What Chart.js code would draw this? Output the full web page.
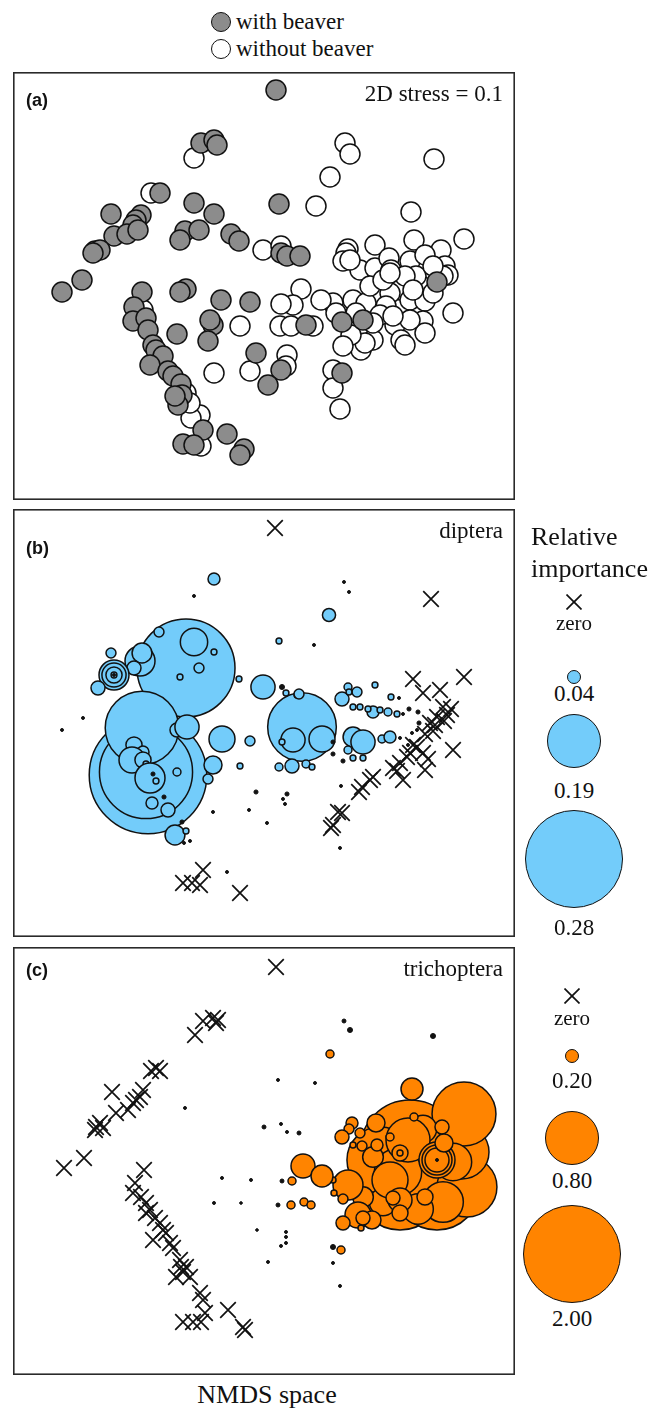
<!DOCTYPE html>
<html><head><meta charset="utf-8">
<script src="https://cdn.jsdelivr.net/npm/chart.js@4.4.1/dist/chart.umd.min.js"></script>
<style>
body{margin:0;background:#fff;}
#page{position:relative;width:664px;height:1410px;overflow:hidden;font-family:"Liberation Serif","Times New Roman",serif;color:#111;background:#fff;}
.t{position:absolute;white-space:nowrap;line-height:1;}
.lab{font-family:"Liberation Sans",Arial,sans-serif;font-weight:bold;font-size:18px;}
canvas{position:absolute;}
.sym{position:absolute;border:1.5px solid #111;border-radius:50%;box-sizing:border-box;}
</style></head><body><div id="page">
<canvas id="cA" width="502" height="428" style="left:13px;top:72px"></canvas>
<canvas id="cB" width="502" height="428" style="left:13px;top:509px"></canvas>
<canvas id="cC" width="502" height="428" style="left:13px;top:947px"></canvas>
</div>
<script>
// ---------- data (NMDS site scores, box units; y measured downward) ----------
const withBeaver = [[263,18],[188,71],[201,68],[204,73],[147,121],[98,142],[128,143],[123,148],[120,153],[101,164],[114,162],[125,158],[82,179],[87,178],[80,181],[69,208],[49,220],[181,131],[201,142],[172,159],[186,158],[167,168],[218,162],[226,169],[266,132],[268,181],[274,184],[287,184],[129,220],[121,235],[120,249],[133,246],[135,258],[140,273],[143,278],[150,284],[137,293],[155,299],[160,304],[168,312],[169,323],[165,333],[162,324],[173,217],[167,220],[164,262],[208,228],[237,230],[200,253],[197,248],[195,269],[243,281],[268,298],[255,313],[293,253],[329,250],[350,248],[329,301],[424,210],[190,358],[170,372],[181,373],[214,362],[231,377],[227,383]];
const withoutBeaver = [[332,71],[337,82],[421,87],[317,105],[303,134],[398,140],[138,121],[181,86],[451,167],[401,168],[428,178],[362,173],[335,177],[333,181],[330,189],[347,198],[362,196],[376,186],[378,198],[397,189],[412,183],[432,194],[435,203],[407,213],[403,204],[387,218],[377,221],[373,234],[397,228],[412,229],[420,221],[440,241],[410,249],[412,261],[382,253],[388,268],[392,273],[360,268],[348,278],[352,271],[338,263],[330,274],[340,228],[353,231],[320,231],[323,241],[308,228],[288,217],[280,233],[268,232],[267,254],[278,254],[300,254],[227,254],[250,178],[268,174],[320,298],[320,316],[327,337],[274,283],[273,294],[237,299],[201,301],[187,343],[188,374],[178,346],[130,238],[127,248],[173,321],[177,331],[367,243],[397,248],[380,244],[430,204],[392,204],[357,214],[370,208],[400,218],[343,241],[360,251],[420,194],[337,188],[377,201]];

const dipteraZero = [[262,19],[418,90],[400,170],[451,168],[427,181],[410,184],[430,198],[424,208],[434,206],[417,214],[412,225],[420,222],[438,200],[431,212],[422,216],[440,241],[404,238],[397,244],[410,244],[400,236],[387,254],[380,259],[390,271],[412,261],[384,262],[394,248],[415,250],[357,271],[349,278],[360,268],[346,283],[325,303],[320,316],[329,304],[318,319],[190,361],[170,374],[179,374],[187,376],[227,384]];
// [nmds1, nmds2, relative importance]
const dipteraSites = [[135,266,0.32],[133,263,0.27],[173,159,0.28],[129,219,0.23],[289,218,0.22],
[181,133,0.09],[146,123,0.026],[201,143,0.012],[186,159,0.026],[167,168,0.012],[226,170,0.012],[98,144,0.026],
[127,152,0.10],[129,144,0.062],[121,159,0.04],[101,166,0.10],[101,166,0.078],[101,166,0.048],[101,166,0.012],[101,166,0.002],[85,179,0.04],
[164,221,0.04],[174,218,0.078],
[121,236,0.048],[130,243,0.033],[119,251,0.085],[130,251,0.048],[133,255,0.012],[137,269,0.10],[140,265,0.006],[143,272,0.012],[139,294,0.033],[155,301,0.04],[151,288,0.006],[164,263,0.019],[162,326,0.062],[173,322,0.012],[169,313,0.006],[177,332,0.002],[171,334,0.002],
[209,230,0.085],[237,232,0.026],[227,257,0.012],[200,256,0.055],[195,270,0.026],[250,178,0.078],[266,132,0.012],[269,178,0.009],[273,184,0.012],[284,186,0.012],[201,70,0.033],[316,106,0.037],
[181,87,0.002],[70,209,0.002],[49,221,0.002],[301,136,0.002],[331,73,0.002],[336,83,0.002],[243,283,0.006],[274,285,0.006],[270,290,0.002],[272,295,0.002],[236,301,0.002],[200,303,0.002],[254,314,0.002],[328,277,0.002],[327,339,0.002],[214,363,0.002],
[280,231,0.078],[309,230,0.085],[269,233,0.012],[320,233,0.006],[286,185,0.026],[266,258,0.019],[279,257,0.04],[293,255,0.019],[299,258,0.012],
[340,228,0.062],[350,233,0.078],[335,241,0.019],[340,249,0.012],[350,249,0.012],[330,252,0.006],[320,245,0.006],[369,230,0.019],[377,228,0.033],[329,190,0.04],[335,178,0.019],[344,183,0.026],[336,183,0.012],[362,176,0.012],[340,198,0.012],[347,198,0.012],[360,203,0.033],[355,200,0.012],[367,201,0.012],[375,203,0.019],[384,205,0.012],[378,188,0.012],[386,189,0.002],[396,200,0.006],[405,203,0.006],[406,214,0.006],[390,205,0.002],[387,229,0.002],[395,236,0.002],[399,224,0.002],[404,221,0.002]];

const trichZero = [[263,20],[182,88],[190,74],[200,71],[205,73],[203,76],[138,124],[147,124],[143,121],[99,145],[130,143],[127,150],[123,153],[120,156],[115,163],[103,166],[87,176],[83,180],[82,183],[90,181],[71,211],[51,221],[131,223],[122,236],[120,246],[128,250],[133,256],[137,263],[142,271],[147,276],[140,293],[153,286],[157,296],[160,301],[167,313],[173,320],[170,325],[163,330],[177,330],[187,346],[190,353],[192,366],[170,375],[180,375],[188,375],[215,363],[230,380],[232,383],[133,266],[150,283],[168,320]];
const trichSites = [[397,203,2.05],[407,226,1.89],[387,240,1.67],[424,240,1.67],[367,213,1.13],[454,240,0.96],[449,205,0.80],[451,167,1.07],
[385,225,0.70],[430,255,0.60],[440,215,0.55],[405,262,0.45],[370,255,0.40],[410,182,0.40],[360,210,0.30],[350,250,0.30],
[395,193,0.65],[424,213,0.53],[424,213,0.44],[424,213,0.35],[377,233,0.53],[335,238,0.44],[345,268,0.38],[387,253,0.35],[359,273,0.26],[387,266,0.23],[412,250,0.23],[330,276,0.20],[348,281,0.062],[363,176,0.26],[399,142,0.32],[339,176,0.165],[336,182,0.13],[329,190,0.20],[347,186,0.13],[364,198,0.165],[377,190,0.097],[349,199,0.13],[340,198,0.062],[387,206,0.23],[387,206,0.062],[429,180,0.20],[431,196,0.26],[401,170,0.097],[320,233,0.062],[321,246,0.062],[330,252,0.13],[380,251,0.20],[350,271,0.20],[424,213,0.01],
[290,219,0.35],[309,229,0.32],[279,234,0.097],[278,258,0.097],[291,255,0.097],[298,258,0.097],[317,107,0.097],[337,83,0.045],[331,74,0.028],[420,89,0.045],[320,300,0.045],[328,303,0.097],
[172,161,0.01],[251,180,0.028],[209,231,0.01],[238,233,0.01],[201,256,0.01],[228,256,0.005],[244,283,0.005],[255,315,0.01],[265,133,0.01],[302,136,0.01],[268,177,0.01],[274,185,0.01],[286,186,0.028],[269,234,0.028],[265,258,0.028],[273,285,0.01],[273,290,0.01],[273,296,0.01],[268,299,0.01],[320,316,0.01],[327,339,0.01]];

const dipteraLegend = [0.04, 0.19, 0.28];
const trichLegend = [0.20, 0.80, 2.00];
const dipteraLegendLabels = ["0.04","0.19","0.28"];
const trichLegendLabels = ["0.20","0.80","2.00"];

// ---------- styling ----------
const BLUE = '#73CCFA', ORANGE = '#FF8400', GREY = '#8C8C8C', INK = '#111';
const LEG_R = [7, 27, 49], R0 = 1.2;
function sizeFor(v, leg){
  const xs=[0,leg[0],leg[1],leg[2]], rs=[R0,LEG_R[0],LEG_R[1],LEG_R[2]];
  for(let i=1;i<xs.length;i++){ if(v<=xs[i]) return rs[i-1]+(v-xs[i-1])/(xs[i]-xs[i-1])*(rs[i]-rs[i-1]); }
  const n=xs.length-1; return rs[n]+(v-xs[n])*(rs[n]-rs[n-1])/(xs[n]-xs[n-1]);
}
const frame = {id:'frame', afterDraw(c){const x=c.ctx; x.save(); x.strokeStyle='#2a2a2a'; x.lineWidth=1.6; x.strokeRect(0.8,0.8,c.width-1.6,c.height-1.6); x.restore();}};
function opts(){return {responsive:false,animation:false,events:[],devicePixelRatio:1,layout:{padding:0,autoPadding:false},
  plugins:{legend:{display:false},tooltip:{enabled:false}},
  scales:{x:{type:'linear',min:0,max:502,display:false},y:{type:'linear',min:0,max:428,reverse:true,display:false}}};}
const pts = a => a.map(p=>({x:p[0],y:p[1]}));
function bubbleSet(arr, leg, color){
  return {type:'bubble', order:2, clip:false,
    data: arr.map(p=>({x:p[0],y:p[1],r:sizeFor(p[2],leg)})),
    backgroundColor: c => (c.raw && c.raw.r<2.6) ? INK : color,
    borderColor: INK, borderWidth: c => (c.raw && c.raw.r<2.6) ? 1 : 1.5};
}
function crossSet(arr){
  return {type:'scatter', order:1, clip:false, data:pts(arr), showLine:false,
    pointStyle:'crossRot', pointRadius:11, pointBorderColor:INK, pointBorderWidth:1.7, borderColor:INK};
}
new Chart(document.getElementById('cA'), {type:'scatter', plugins:[frame], options:opts(), data:{datasets:[
  {label:'without beaver', order:2, clip:false, data:pts(withoutBeaver), pointRadius:10, pointBackgroundColor:'#fff', pointBorderColor:INK, pointBorderWidth:1.5},
  {label:'with beaver', order:1, clip:false, data:pts(withBeaver), pointRadius:10, pointBackgroundColor:GREY, pointBorderColor:INK, pointBorderWidth:1.5}
]}});
new Chart(document.getElementById('cB'), {type:'bubble', plugins:[frame], options:opts(), data:{datasets:[
  bubbleSet(dipteraSites, dipteraLegend, BLUE), crossSet(dipteraZero)]}});
new Chart(document.getElementById('cC'), {type:'bubble', plugins:[frame], options:opts(), data:{datasets:[
  bubbleSet(trichSites, trichLegend, ORANGE), crossSet(trichZero)]}});

// ---------- text & legends ----------
const page=document.getElementById('page');
function txt(s, x, y, size, align, cls){
  const d=document.createElement('div'); d.className='t'+(cls?' '+cls:''); d.textContent=s;
  d.style.fontSize=size+'px'; d.style.top=y+'px';
  if(align==='c'){d.style.left=x+'px'; d.style.transform='translate(-50%,-50%)';}
  else if(align==='r'){d.style.right=(664-x)+'px'; d.style.transform='translateY(-50%)';}
  else {d.style.left=x+'px'; d.style.transform='translateY(-50%)';}
  page.appendChild(d); return d;
}
function circ(cx, cy, r, color){
  const d=document.createElement('div'); d.className='sym';
  d.style.width=d.style.height=(2*r)+'px'; d.style.left=(cx-r)+'px'; d.style.top=(cy-r)+'px'; d.style.background=color;
  page.appendChild(d);
}
function xmark(cx, cy){
  const s=16; const ns='http://www.w3.org/2000/svg';
  const svg=document.createElementNS(ns,'svg'); svg.setAttribute('width',s); svg.setAttribute('height',s);
  svg.style.position='absolute'; svg.style.left=(cx-s/2)+'px'; svg.style.top=(cy-s/2)+'px';
  svg.innerHTML='<line x1="0.5" y1="0.5" x2="15.5" y2="15.5" stroke="#111" stroke-width="1.7"/><line x1="15.5" y1="0.5" x2="0.5" y2="15.5" stroke="#111" stroke-width="1.7"/>';
  page.appendChild(svg);
}
// top legend
circ(221, 22, 10, GREY); txt('with beaver', 236, 21, 23);
circ(221, 49, 10, '#fff'); txt('without beaver', 236, 48, 23);
// panel labels
txt('(a)', 26, 100, 18, 'l', 'lab'); txt('2D stress = 0.1', 503, 93, 23, 'r');
txt('(b)', 26, 548, 18, 'l', 'lab'); txt('diptera', 503, 530, 23, 'r');
txt('(c)', 26, 970, 18, 'l', 'lab'); txt('trichoptera', 503, 968, 23, 'r');
txt('NMDS space', 267, 1395, 26, 'c');
// size legends
txt('Relative', 531, 537, 26); txt('importance', 531, 569, 26);
function sizeLegend(cx, yX, yZero, ys, yl, leg, labels, color){
  xmark(cx, yX); txt('zero', cx, yZero, 21, 'c');
  leg.forEach((v,i)=>{ circ(cx, ys[i], sizeFor(v,leg), color); txt(labels[i], cx, yl[i], 23, 'c'); });
}
sizeLegend(574, 602, 623, [677,741,859], [693,790,927], dipteraLegend, dipteraLegendLabels, BLUE);
sizeLegend(572, 996, 1018, [1056,1138,1254], [1080,1180,1318], trichLegend, trichLegendLabels, ORANGE);
</script>
</body></html>
